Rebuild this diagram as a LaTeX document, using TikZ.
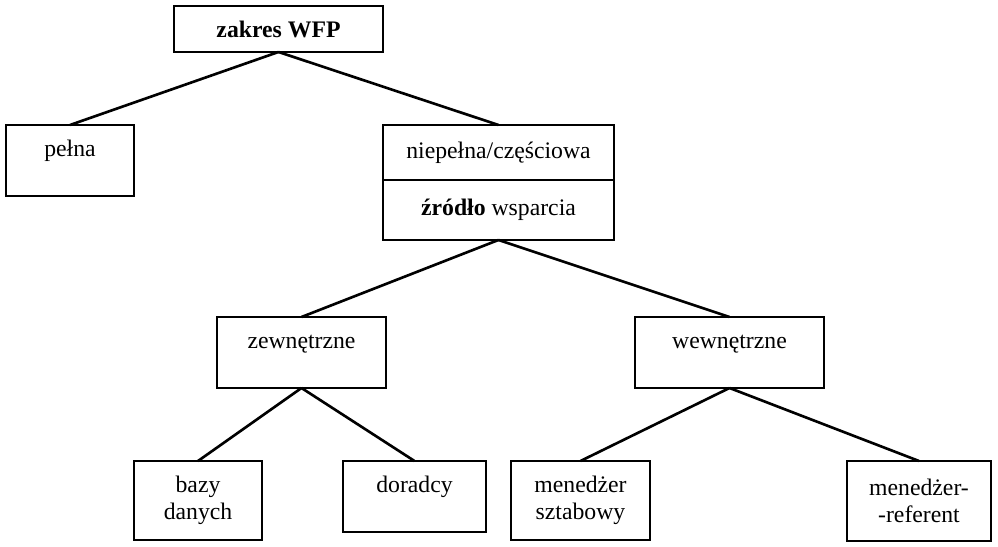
\documentclass[tikz,border=0pt]{standalone}
\usepackage{fontspec}
\setmainfont{Liberation Serif}
\usetikzlibrary{positioning}

\tikzset{
  box/.style={draw,line width=1.1pt,inner xsep=2pt,outer sep=0pt,align=center,anchor=north},
  onetext/.style={inner ysep=0pt,text height=0.64cm,text depth=0.78cm},
  link/.style={line width=1.5pt}
}

\begin{document}
\begin{tikzpicture}[x=0.02cm,y=-0.02cm,font=\fontsize{13.5}{15}\selectfont]
        \useasboundingbox (0,0) rectangle (998,547);
        \node[box,minimum width=4.18cm,minimum height=0.92cm] (zakres) at (278.5,6) {\textbf{zakres WFP}};
        \node[box,onetext,minimum width=2.56cm,minimum height=1.42cm] (pelna) at (70,125) {pełna};
        \node[box,minimum width=4.62cm,minimum height=1.1cm] (niepelna) at (498.5,125) {niepełna/częściowa};
        \node[box,minimum width=4.62cm,minimum height=1.2cm,below=0pt of niepelna] (zrodlo) {\textbf{źródło} wsparcia};
        \node[box,onetext,minimum width=3.38cm,minimum height=1.42cm] (zewn) at (301.5,317) {zewnętrzne};
        \node[box,onetext,minimum width=3.78cm,minimum height=1.42cm] (wewn) at (729.5,317) {wewnętrzne};
        \node[box,minimum width=2.56cm,minimum height=1.58cm] (bazy) at (198,461) {bazy\\danych};
        \node[box,onetext,minimum width=2.86cm,minimum height=1.4cm] (doradcy) at (414.5,461) {doradcy};
        \node[box,minimum width=2.78cm,minimum height=1.58cm] (sztab) at (580.5,461) {menedżer\\sztabowy};
        \node[box,minimum width=2.88cm,minimum height=1.6cm] (referent) at (919,461) {menedżer-\\-referent};
        \draw[link] (zakres.south)--(pelna.north); \draw[link] (zakres.south)--(niepelna.north);
        \draw[link] (zrodlo.south)--(zewn.north); \draw[link] (zrodlo.south)--(wewn.north);
        \draw[link] (zewn.south)--(bazy.north); \draw[link] (zewn.south)--(doradcy.north);
        \draw[link] (wewn.south)--(sztab.north); \draw[link] (wewn.south)--(referent.north);
      \end{tikzpicture}
\end{document}
